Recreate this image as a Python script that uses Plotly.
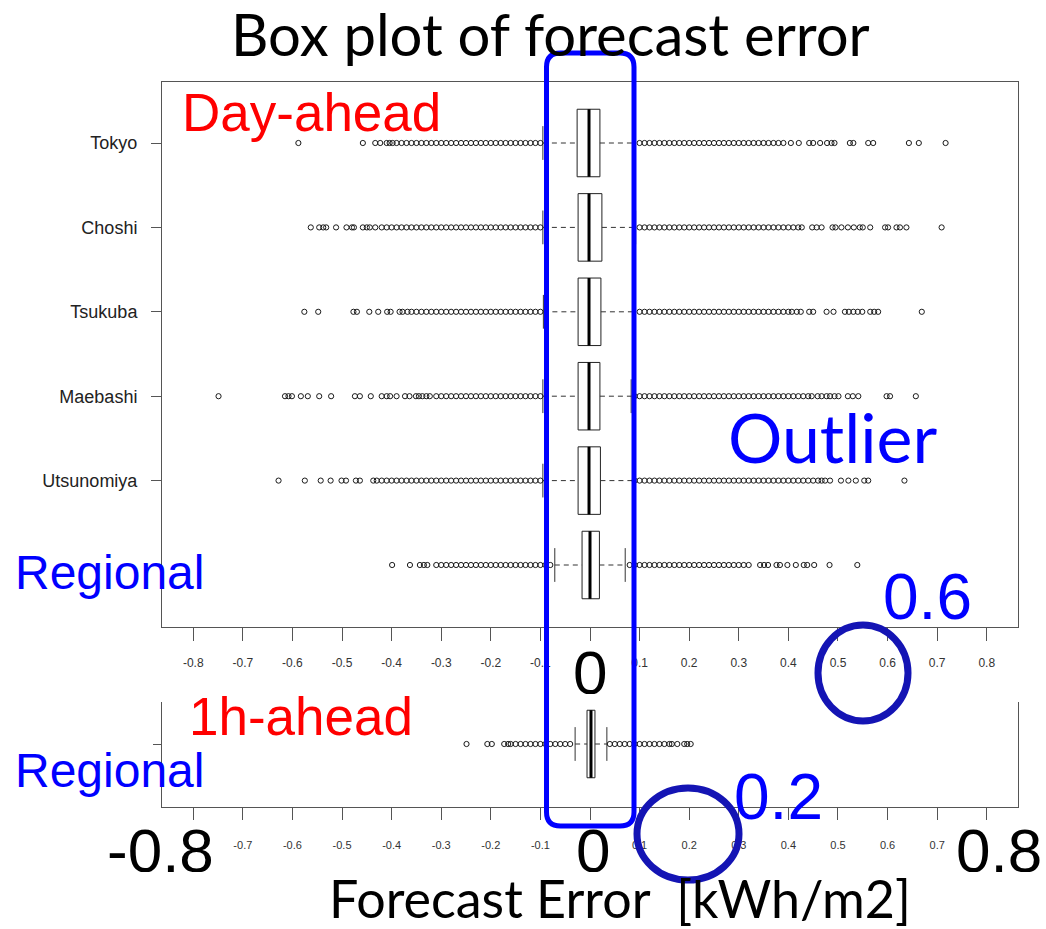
import plotly.graph_objects as go

W, H = 1046, 929

# ---------------- data ----------------
STATIONS = ["Regional", "Utsunomiya", "Maebashi", "Tsukuba", "Choshi", "Tokyo"]
POSITIONS = [1, 2, 3, 4, 5, 6]

# Day-ahead box statistics (kWh/m2)
DA_Q1 = [-0.016, -0.024, -0.024, -0.024, -0.024, -0.026]
DA_MED = [0.000, -0.002, -0.002, -0.002, -0.002, -0.002]
DA_Q3 = [0.019, 0.021, 0.020, 0.022, 0.024, 0.020]
DA_LOW = [-0.071, -0.095, -0.095, -0.094, -0.095, -0.095]
DA_UP = [0.071, 0.088, 0.083, 0.090, 0.092, 0.089]

# Day-ahead outliers
OUT_REGIONAL = [-0.399, -0.363, -0.343, -0.335, -0.328, -0.31, -0.30, -0.29, -0.28, -0.27,
                -0.26, -0.25, -0.24, -0.23, -0.22, -0.21, -0.20, -0.19, -0.18, -0.17, -0.16,
                -0.15, -0.14, -0.13, -0.12, -0.11, -0.10, -0.09, -0.08,
                0.08, 0.09, 0.10, 0.11, 0.12, 0.13, 0.14, 0.15, 0.16, 0.17, 0.18, 0.19, 0.20,
                0.21, 0.22, 0.23, 0.24, 0.25, 0.26, 0.27, 0.28, 0.29, 0.30, 0.31, 0.32,
                0.343, 0.351, 0.359, 0.376, 0.383, 0.398, 0.415, 0.431, 0.438, 0.452, 0.483, 0.539]
OUT_UTSUNOMIYA = [-0.628, -0.575, -0.543, -0.523, -0.501, -0.492, -0.472, -0.464, -0.437,
                  -0.43, -0.42, -0.41, -0.40, -0.39, -0.38, -0.37, -0.36, -0.35, -0.34, -0.33,
                  -0.32, -0.31, -0.30, -0.29, -0.28, -0.27, -0.26, -0.25, -0.24, -0.23, -0.22,
                  -0.21, -0.20, -0.19, -0.18, -0.17, -0.16, -0.15, -0.14, -0.13, -0.12, -0.11, -0.10,
                  0.09, 0.10, 0.11, 0.12, 0.13, 0.14, 0.15, 0.16, 0.17, 0.18, 0.19, 0.20, 0.21,
                  0.22, 0.23, 0.24, 0.25, 0.26, 0.27, 0.28, 0.29, 0.30, 0.31, 0.32, 0.33, 0.34,
                  0.35, 0.36, 0.37, 0.38, 0.39, 0.40, 0.41, 0.42, 0.43, 0.44, 0.45, 0.46,
                  0.467, 0.474, 0.484, 0.506, 0.521, 0.536, 0.553, 0.561, 0.634]
OUT_MAEBASHI = [-0.749, -0.615, -0.608, -0.601, -0.583, -0.569, -0.546, -0.522, -0.474, -0.464,
                -0.442, -0.420, -0.410, -0.403, -0.390, -0.373, -0.364, -0.351, -0.345, -0.338,
                -0.330, -0.323, -0.31, -0.30, -0.29, -0.28, -0.27, -0.26, -0.25, -0.24, -0.23,
                -0.22, -0.21, -0.20, -0.19, -0.18, -0.17, -0.16, -0.15, -0.14, -0.13, -0.12,
                -0.11, -0.10,
                0.09, 0.10, 0.11, 0.12, 0.13, 0.14, 0.15, 0.16, 0.17, 0.18, 0.19, 0.20, 0.21,
                0.22, 0.23, 0.24, 0.25, 0.26, 0.27, 0.28, 0.29, 0.30, 0.31, 0.32, 0.33, 0.34,
                0.35, 0.36, 0.37, 0.38, 0.39, 0.40, 0.41, 0.42, 0.43, 0.44,
                0.447, 0.459, 0.467, 0.477, 0.484, 0.493, 0.501, 0.520, 0.530, 0.541, 0.598,
                0.605, 0.657]
OUT_TSUKUBA = [-0.576, -0.548, -0.477, -0.470, -0.445, -0.427, -0.409, -0.402, -0.384, -0.378,
               -0.368, -0.36, -0.35, -0.34, -0.33, -0.32, -0.31, -0.30, -0.29, -0.28, -0.27,
               -0.26, -0.25, -0.24, -0.23, -0.22, -0.21, -0.20, -0.19, -0.18, -0.17, -0.16,
               -0.15, -0.14, -0.13, -0.12, -0.11, -0.10,
               0.10, 0.11, 0.12, 0.13, 0.14, 0.15, 0.16, 0.17, 0.18, 0.19, 0.20, 0.21, 0.22,
               0.23, 0.24, 0.25, 0.26, 0.27, 0.28, 0.29, 0.30, 0.31, 0.32, 0.33, 0.34, 0.35,
               0.36, 0.37, 0.38, 0.39, 0.40,
               0.407, 0.417, 0.425, 0.442, 0.450, 0.477, 0.491, 0.514, 0.522, 0.531, 0.540,
               0.549, 0.565, 0.573, 0.581, 0.669]
OUT_CHOSHI = [-0.563, -0.546, -0.538, -0.532, -0.512, -0.491, -0.480, -0.476, -0.458, -0.450,
              -0.444, -0.433, -0.42, -0.41, -0.40, -0.39, -0.38, -0.37, -0.36, -0.35, -0.34,
              -0.33, -0.32, -0.31, -0.30, -0.29, -0.28, -0.27, -0.26, -0.25, -0.24, -0.23,
              -0.22, -0.21, -0.20, -0.19, -0.18, -0.17, -0.16, -0.15, -0.14, -0.13, -0.12,
              -0.11, -0.10,
              0.10, 0.11, 0.12, 0.13, 0.14, 0.15, 0.16, 0.17, 0.18, 0.19, 0.20, 0.21, 0.22,
              0.23, 0.24, 0.25, 0.26, 0.27, 0.28, 0.29, 0.30, 0.31, 0.32, 0.33, 0.34, 0.35,
              0.36, 0.37, 0.38, 0.39, 0.40, 0.41, 0.42,
              0.427, 0.448, 0.457, 0.467, 0.489, 0.495, 0.507, 0.520, 0.532, 0.544, 0.550,
              0.565, 0.595, 0.601, 0.618, 0.625, 0.638, 0.709]
OUT_TOKYO = [-0.588, -0.458, -0.433, -0.423, -0.410, -0.404, -0.398, -0.39, -0.38, -0.37,
             -0.36, -0.35, -0.34, -0.33, -0.32, -0.31, -0.30, -0.29, -0.28, -0.27, -0.26,
             -0.25, -0.24, -0.23, -0.22, -0.21, -0.20, -0.19, -0.18, -0.17, -0.16, -0.15,
             -0.14, -0.13, -0.12, -0.11, -0.10,
             0.10, 0.11, 0.12, 0.13, 0.14, 0.15, 0.16, 0.17, 0.18, 0.19, 0.20, 0.21, 0.22,
             0.23, 0.24, 0.25, 0.26, 0.27, 0.28, 0.29, 0.30, 0.31, 0.32, 0.33, 0.34, 0.35,
             0.36, 0.37, 0.38, 0.39,
             0.405, 0.421, 0.442, 0.450, 0.464, 0.478, 0.487, 0.493, 0.524, 0.531, 0.561,
             0.571, 0.643, 0.663, 0.717]
DA_OUTLIERS = [OUT_REGIONAL, OUT_UTSUNOMIYA, OUT_MAEBASHI, OUT_TSUKUBA, OUT_CHOSHI, OUT_TOKYO]

# 1h-ahead (regional) box statistics and outliers
H1_POS = [1]
H1_Q1 = [-0.006]
H1_MED = [0.002]
H1_Q3 = [0.010]
H1_LOW = [-0.030]
H1_UP = [0.034]
H1_OUTLIERS = [-0.249, -0.207, -0.198, -0.173, -0.165, -0.16, -0.15, -0.14, -0.13, -0.12,
               -0.11, -0.10, -0.09, -0.08, -0.07, -0.06, -0.05, -0.04,
               0.04, 0.05, 0.06, 0.07, 0.08, 0.09, 0.10, 0.11, 0.12, 0.13, 0.14, 0.15, 0.16,
               0.165, 0.176, 0.190, 0.196, 0.203]

TICK_VALUES = [-0.8, -0.7, -0.6, -0.5, -0.4, -0.3, -0.2, -0.1, 0.0,
               0.1, 0.2, 0.3, 0.4, 0.5, 0.6, 0.7, 0.8]
# small tick labels; the ones hidden under the big overlay numbers are left blank
TOP_TICK_LABELS = ["-0.8", "-0.7", "-0.6", "-0.5", "-0.4", "-0.3", "-0.2", "-0.1", "",
                   "0.1", "0.2", "0.3", "0.4", "0.5", "0.6", "0.7", "0.8"]
BOT_TICK_LABELS = ["", "-0.7", "-0.6", "-0.5", "-0.4", "-0.3", "-0.2", "-0.1", "",
                   "0.1", "0.2", "0.3", "0.4", "0.5", "0.6", "0.7", ""]

# ---------------- helpers ----------------
def px(x):
    return x / W

def py(y):
    return 1 - y / H

BOX_W = 0.8
STAPLE_W = 0.4
AX_COL = "#555555"
X_RANGE = [-0.863, 0.863]


def add_boxes(fig, pos, q1, med, q3, low, up, outliers_list, xa, ya):
    fig.add_trace(go.Box(
        y=pos, q1=q1, median=med, q3=q3, lowerfence=q1, upperfence=q3,
        orientation="h", width=BOX_W, fillcolor="white",
        line=dict(color="#222222", width=1), boxpoints=False, whiskerwidth=0,
        hoverinfo="skip", showlegend=False, xaxis=xa, yaxis=ya))
    mx, my, wx, wy, sx, sy = [], [], [], [], [], []
    for p, a, m, b, lo, hi in zip(pos, q1, med, q3, low, up):
        mx += [m, m, None]
        my += [p - BOX_W / 2, p + BOX_W / 2, None]
        wx += [lo, a, None, b, hi, None]
        wy += [p, p, None, p, p, None]
        sx += [lo, lo, None, hi, hi, None]
        sy += [p - STAPLE_W / 2, p + STAPLE_W / 2, None, p - STAPLE_W / 2, p + STAPLE_W / 2, None]
    fig.add_trace(go.Scatter(x=wx, y=wy, mode="lines",
                             line=dict(color="#333333", width=1, dash="5px,4px"),
                             hoverinfo="skip", showlegend=False, xaxis=xa, yaxis=ya))
    fig.add_trace(go.Scatter(x=sx, y=sy, mode="lines", line=dict(color="#333333", width=1),
                             hoverinfo="skip", showlegend=False, xaxis=xa, yaxis=ya))
    fig.add_trace(go.Scatter(x=mx, y=my, mode="lines", line=dict(color="black", width=3),
                             hoverinfo="skip", showlegend=False, xaxis=xa, yaxis=ya))
    ox, oy = [], []
    for p, vals in zip(pos, outliers_list):
        ox += vals
        oy += [p] * len(vals)
    fig.add_trace(go.Scatter(x=ox, y=oy, mode="markers",
                             marker=dict(symbol="circle-open", size=5.2, color="#1a1a1a",
                                         line=dict(width=1.0, color="#1a1a1a")),
                             hoverinfo="skip", showlegend=False, xaxis=xa, yaxis=ya))


fig = go.Figure()
add_boxes(fig, POSITIONS, DA_Q1, DA_MED, DA_Q3, DA_LOW, DA_UP, DA_OUTLIERS, "x", "y")
add_boxes(fig, H1_POS, H1_Q1, H1_MED, H1_Q3, H1_LOW, H1_UP, [H1_OUTLIERS], "x2", "y2")

x_dom = [px(162), px(1018)]
top_dom = [py(627), py(82)]
bot_dom = [py(807), py(702)]

# top panel: row pitch 84.4 px per unit
top_range = [1 - (627 - 565) / 84.4, 6 + (143 - 82) / 84.4]
bot_range = [1 - (807 - 744) / 84.4, 1 + (744 - 702) / 84.4]

common_x = dict(range=X_RANGE, showgrid=False, zeroline=False, tickmode="array",
                tickvals=TICK_VALUES, ticks="outside",
                tickcolor=AX_COL, showline=True, linecolor=AX_COL, linewidth=1,
                domain=x_dom)

fig.update_layout(
    width=W, height=H, margin=dict(l=0, r=0, t=0, b=0),
    paper_bgcolor="white", plot_bgcolor="white", showlegend=False,
    xaxis=dict(**common_x, ticktext=TOP_TICK_LABELS, anchor="y", mirror=True, ticklen=13,
               ticklabelstandoff=12,
               tickfont=dict(family="Liberation Sans", size=12, color="#333333")),
    yaxis=dict(domain=top_dom, range=top_range, showgrid=False, zeroline=False,
               tickmode="array", tickvals=POSITIONS,
               ticktext=["", "Utsunomiya", "Maebashi", "Tsukuba", "Choshi", "Tokyo"],
               ticks="outside",
               ticklen=10, tickcolor=AX_COL, showline=True, linecolor=AX_COL, linewidth=1,
               mirror=True, ticklabelstandoff=10, anchor="x",
               tickfont=dict(family="Liberation Sans", size=18, color="#222222")),
    xaxis2=dict(**common_x, ticktext=BOT_TICK_LABELS, anchor="y2", ticklen=12,
                ticklabelstandoff=16,
                tickfont=dict(family="Liberation Sans", size=11, color="#333333")),
    yaxis2=dict(domain=bot_dom, range=bot_range, showgrid=False, zeroline=False,
                tickmode="array", tickvals=H1_POS, ticktext=[""], ticks="outside",
                ticklen=8, tickcolor=AX_COL, showline=True, linecolor=AX_COL, linewidth=1,
                mirror=True, anchor="x2"),
)

CAL = "Lato"
ARI = "Liberation Sans"


def ann(text, x, y, size, color, family, xanchor="left", height=None):
    fig.add_annotation(text=text, x=px(x), y=py(y), xref="paper", yref="paper",
                       xanchor=xanchor, yanchor="middle", showarrow=False,
                       borderpad=0, height=height,
                       font=dict(family=family, size=size, color=color))


ann("Box plot of forecast error", 550, 34, 58, "black", CAL, "center")
ann("Day-ahead", 181, 112, 53, "#ff0000", ARI)
ann("Outlier", 727, 437, 68, "#0000ff", CAL)
ann("Regional", 14, 572, 48, "#0000ff", ARI)
ann("0.6", 882, 597, 64, "#0000ff", ARI)
ann("1h-ahead", 188, 716, 53, "#ff0000", ARI)
ann("Regional", 14, 770, 48, "#0000ff", ARI)
ann("0.2", 733, 797, 64, "#0000ff", ARI)

# big black axis numbers
ann("0", 590, 672, 62, "black", ARI, "center", height=44)
ann("-0.8", 160, 850, 62, "black", ARI, "center", height=44)
ann("0", 593, 850, 62, "black", ARI, "center", height=44)
ann("0.8", 999, 850, 62, "black", ARI, "center", height=44)
ann("Forecast Error\u00a0 [kWh/m2]", 328, 898, 52, "black", CAL)

# blue rounded rectangle
x0, x1, y0, y1, r = 546.5, 634, 53, 826, 14
path = (f"M {px(x0 + r)} {py(y0)} L {px(x1 - r)} {py(y0)} "
        f"Q {px(x1)} {py(y0)} {px(x1)} {py(y0 + r)} L {px(x1)} {py(y1 - r)} "
        f"Q {px(x1)} {py(y1)} {px(x1 - r)} {py(y1)} L {px(x0 + r)} {py(y1)} "
        f"Q {px(x0)} {py(y1)} {px(x0)} {py(y1 - r)} L {px(x0)} {py(y0 + r)} "
        f"Q {px(x0)} {py(y0)} {px(x0 + r)} {py(y0)} Z")
fig.add_shape(type="path", path=path, xref="paper", yref="paper",
              line=dict(color="#0000ff", width=5), layer="above")

# blue ellipses
for cx, cy, rx, ry in [(863, 673, 45, 48), (688, 834, 51, 46)]:
    fig.add_shape(type="circle", xref="paper", yref="paper",
                  x0=px(cx - rx), x1=px(cx + rx), y0=py(cy + ry), y1=py(cy - ry),
                  line=dict(color="#1414b4", width=7), layer="above")

fig.write_html("out.html")
